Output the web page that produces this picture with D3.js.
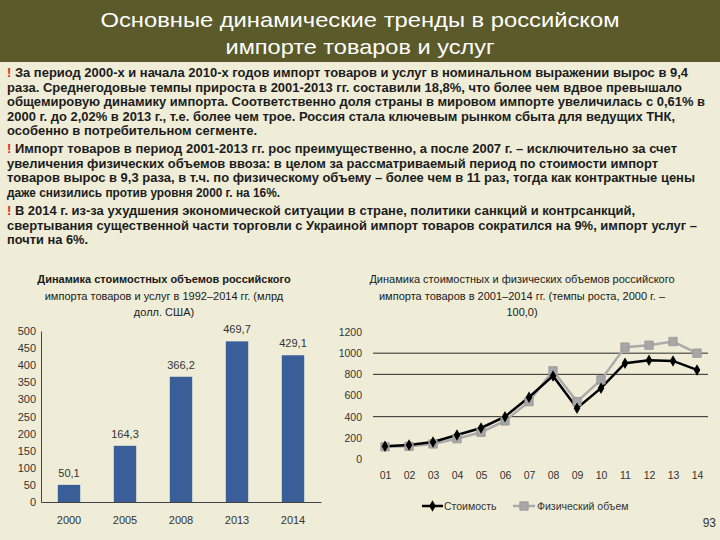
<!DOCTYPE html>
<html>
<head>
<meta charset="utf-8">
<script src="https://cdn.jsdelivr.net/npm/d3@7"></script>
<style>
body { margin: 0; background: #efedd7; }
svg { display: block; font-family: "Liberation Sans", Arial, sans-serif; }
</style>
</head>
<body>
<script>
// data
var titleLines = ["Основные динамические тренды в российском", "импорте товаров и услуг"];

var textLines = [
    "! За период 2000-х и начала 2010-х годов импорт товаров и услуг в номинальном выражении вырос в 9,4",
    "раза. Среднегодовые темпы прироста в 2001-2013 гг. составили 18,8%, что более чем вдвое превышало",
    "общемировую динамику импорта. Соответственно доля страны в мировом импорте увеличилась с 0,61% в",
    "2000 г. до 2,02% в 2013 г., т.е. более чем трое. Россия стала ключевым рынком сбыта для ведущих ТНК,",
    "особенно в потребительном сегменте.",
    "! Импорт товаров в период 2001-2013 гг. рос преимущественно, а после 2007 г. – исключительно за счет",
    "увеличения физических объемов ввоза: в целом за рассматриваемый период по стоимости импорт",
    "товаров вырос в 9,3 раза, в т.ч. по физическому объему – более чем в 11 раз, тогда как контрактные цены",
    "даже снизились против уровня 2000 г. на 16%.",
    "! В 2014 г. из-за ухудшения экономической ситуации в стране, политики санкций и контрсанкций,",
    "свертывания существенной части торговли с Украиной импорт товаров сократился на 9%, импорт услуг –",
    "почти на 6%."
];

var barTitle = ["Динамика стоимостных объемов российского", "импорта товаров и услуг в 1992–2014 гг. (млрд", "долл. США)"];
var barYears = ["2000", "2005", "2008", "2013", "2014"];
var barValues = [50.1, 164.3, 366.2, 469.7, 429.1];
var barTicks = [0, 50, 100, 150, 200, 250, 300, 350, 400, 450, 500];

var lineTitle = ["Динамика стоимостных и физических объемов российского", "импорта товаров в 2001–2014 гг. (темпы роста, 2000 г. –", "100,0)"];
var lineLabels = ["01", "02", "03", "04", "05", "06", "07", "08", "09", "10", "11", "12", "13", "14"];
var costValues = [120, 132, 161, 227, 293, 400, 584, 785, 480, 669, 905, 933, 927, 842];
var volumeValues = [115, 120, 142, 192, 253, 360, 542, 833, 542, 747, 1057, 1075, 1110, 1000];
var lineTicks = [0, 200, 400, 600, 800, 1000, 1200];
var gridTicks = [400, 800, 1000];
var legendNames = ["Стоимость", "Физический объем"];

// layout
var width = 720;
var height = 540;
var textEnds = [688, 682, 705, 675, 257, 677, 658, 695, 280, 635, 697, 88];
var textY = [77, 91.5, 106, 120.5, 135, 153, 167.5, 182, 196.5, 215, 229.5, 244];

var svg = d3.select("body")
    .append("svg")
    .attr("width", width)
    .attr("height", height);

svg.append("rect")
    .attr("width", width)
    .attr("height", height)
    .attr("fill", "#efedd7");

// title band
svg.append("rect")
    .attr("x", 0)
    .attr("y", 0)
    .attr("width", width)
    .attr("height", 62)
    .attr("fill", "#5b5a2b");

var titleLen = [519, 269];
svg.selectAll(".title")
    .data(titleLines)
    .enter()
    .append("text")
    .attr("class", "title")
    .attr("x", 360)
    .attr("y", function(d, i) { return 27 + i * 27; })
    .attr("text-anchor", "middle")
    .attr("fill", "#ffffff")
    .style("font-size", "21px")
    .attr("textLength", function(d, i) { return titleLen[i]; })
    .attr("lengthAdjust", "spacingAndGlyphs")
    .text(function(d) { return d; });

// text block
var tl = svg.selectAll(".tline")
    .data(textLines)
    .enter()
    .append("text")
    .attr("class", "tline")
    .attr("x", 7)
    .attr("y", function(d, i) { return textY[i]; })
    .attr("fill", "#1c1c1c")
    .style("font-size", "12.5px")
    .style("font-weight", "bold")
    .attr("textLength", function(d, i) { return textEnds[i] - 7; })
    .attr("lengthAdjust", "spacingAndGlyphs");

tl.each(function(d) {
    var t = d3.select(this);
    if (d.charAt(0) == "!") {
        t.append("tspan").attr("fill", "#e3261c").text("!");
        t.append("tspan").text(d.slice(1));
    } else {
        t.text(d);
    }
});

// bar chart
var x1 = d3.scaleBand()
    .domain(barYears)
    .range([41, 321])
    .paddingInner(0.6)
    .paddingOuter(0.3);

var y1 = d3.scaleLinear()
    .domain([0, 500])
    .range([502, 331]);

svg.selectAll(".btitle")
    .data(barTitle)
    .enter()
    .append("text")
    .attr("class", "btitle")
    .attr("x", 164)
    .attr("y", function(d, i) { return 283 + i * 16.5; })
    .attr("text-anchor", "middle")
    .attr("fill", "#1a1a1a")
    .style("font-size", "11px")
    .style("font-weight", function(d, i) { return i == 0 ? "bold" : "normal"; })
    .text(function(d) { return d; });

var bars = barYears.map(function(d, i) {
    return { year: d, value: barValues[i] };
});

svg.selectAll(".bar")
    .data(bars)
    .enter()
    .append("rect")
    .attr("class", "bar")
    .attr("x", function(d) { return x1(d.year); })
    .attr("y", function(d) { return y1(d.value); })
    .attr("width", x1.bandwidth())
    .attr("height", function(d) { return y1(0) - y1(d.value); })
    .attr("fill", "#3a5e98");

svg.selectAll(".blabel")
    .data(bars)
    .enter()
    .append("text")
    .attr("class", "blabel")
    .attr("x", function(d) { return x1(d.year) + x1.bandwidth() / 2; })
    .attr("y", function(d) { return y1(d.value) - 8; })
    .attr("text-anchor", "middle")
    .attr("fill", "#333333")
    .style("font-size", "11px")
    .text(function(d) { return String(d.value).replace(".", ","); });

var yAxis1 = svg.append("g")
    .attr("transform", "translate(41,0)")
    .call(d3.axisLeft(y1).tickValues(barTicks).tickSize(0).tickPadding(5));

var xAxis1 = svg.append("g")
    .attr("transform", "translate(0,502)")
    .call(d3.axisBottom(x1).tickSize(0).tickPadding(14));

[yAxis1, xAxis1].forEach(function(a) {
    a.select(".domain").attr("stroke", "#444444").attr("stroke-width", 1);
    a.selectAll("text")
        .attr("fill", "#333333")
        .style("font-size", "11px")
        .style("font-family", "'Liberation Sans', Arial, sans-serif");
});

// line chart
var x2 = d3.scalePoint()
    .domain(lineLabels)
    .range([385, 697]);

var y2 = d3.scaleLinear()
    .domain([0, 1200])
    .range([459, 332]);

svg.selectAll(".ltitle")
    .data(lineTitle)
    .enter()
    .append("text")
    .attr("class", "ltitle")
    .attr("x", 522)
    .attr("y", function(d, i) { return 283 + i * 16.5; })
    .attr("text-anchor", "middle")
    .attr("fill", "#1a1a1a")
    .style("font-size", "11px")
    .text(function(d) { return d; });

svg.selectAll(".grid")
    .data(gridTicks)
    .enter()
    .append("line")
    .attr("class", "grid")
    .attr("x1", 373)
    .attr("x2", 708)
    .attr("y1", function(d) { return y2(d); })
    .attr("y2", function(d) { return y2(d); })
    .attr("stroke", "#2a2a2a")
    .attr("stroke-width", 1);

var yAxis2 = svg.append("g")
    .attr("transform", "translate(366,0)")
    .call(d3.axisLeft(y2).tickValues(lineTicks).tickFormat(d3.format("d")).tickSize(0).tickPadding(4));

var xAxis2 = svg.append("g")
    .attr("transform", "translate(0,459)")
    .call(d3.axisBottom(x2).tickSize(0).tickPadding(13));

[yAxis2, xAxis2].forEach(function(a) {
    a.select(".domain").remove();
    a.selectAll("text")
        .attr("fill", "#333333")
        .style("font-size", "10.5px")
        .style("font-family", "'Liberation Sans', Arial, sans-serif");
});

var line = d3.line()
    .x(function(d, i) { return x2(lineLabels[i]); })
    .y(function(d) { return y2(d); });

svg.append("path")
    .datum(volumeValues)
    .attr("d", line)
    .attr("fill", "none")
    .attr("stroke", "#ababab")
    .attr("stroke-width", 2.5);

svg.append("path")
    .datum(costValues)
    .attr("d", line)
    .attr("fill", "none")
    .attr("stroke", "#000000")
    .attr("stroke-width", 2.5);

var square = d3.symbol().type(d3.symbolSquare).size(70);
var diamond = d3.symbol().type(d3.symbolDiamond).size(38);

svg.selectAll(".vpt")
    .data(volumeValues)
    .enter()
    .append("path")
    .attr("class", "vpt")
    .attr("d", square)
    .attr("transform", function(d, i) { return "translate(" + x2(lineLabels[i]) + "," + y2(d) + ")"; })
    .attr("fill", "#a7a7a7")
    .attr("stroke", "#949494")
    .attr("stroke-width", 0.8);

svg.selectAll(".cpt")
    .data(costValues)
    .enter()
    .append("path")
    .attr("class", "cpt")
    .attr("d", diamond)
    .attr("transform", function(d, i) { return "translate(" + x2(lineLabels[i]) + "," + y2(d) + ")"; })
    .attr("fill", "#000000");

// legend
var legend = svg.append("g").attr("transform", "translate(0,506)");

legend.append("line")
    .attr("x1", 422).attr("x2", 443)
    .attr("stroke", "#000000").attr("stroke-width", 2.5);
legend.append("path")
    .attr("d", diamond)
    .attr("transform", "translate(432.5,0)")
    .attr("fill", "#000000");
legend.append("text")
    .attr("x", 444)
    .attr("y", 4)
    .attr("fill", "#333333")
    .style("font-size", "10.5px")
    .text(legendNames[0]);

legend.append("line")
    .attr("x1", 513).attr("x2", 535)
    .attr("stroke", "#ababab").attr("stroke-width", 2.5);
legend.append("path")
    .attr("d", square)
    .attr("transform", "translate(524,0)")
    .attr("fill", "#a7a7a7")
    .attr("stroke", "#949494")
    .attr("stroke-width", 0.8);
legend.append("text")
    .attr("x", 537)
    .attr("y", 4)
    .attr("fill", "#333333")
    .style("font-size", "10.5px")
    .text(legendNames[1]);

// page number
svg.append("text")
    .attr("x", 716)
    .attr("y", 527)
    .attr("text-anchor", "end")
    .attr("fill", "#333333")
    .style("font-size", "12px")
    .text("93");
</script>
</body>
</html>
